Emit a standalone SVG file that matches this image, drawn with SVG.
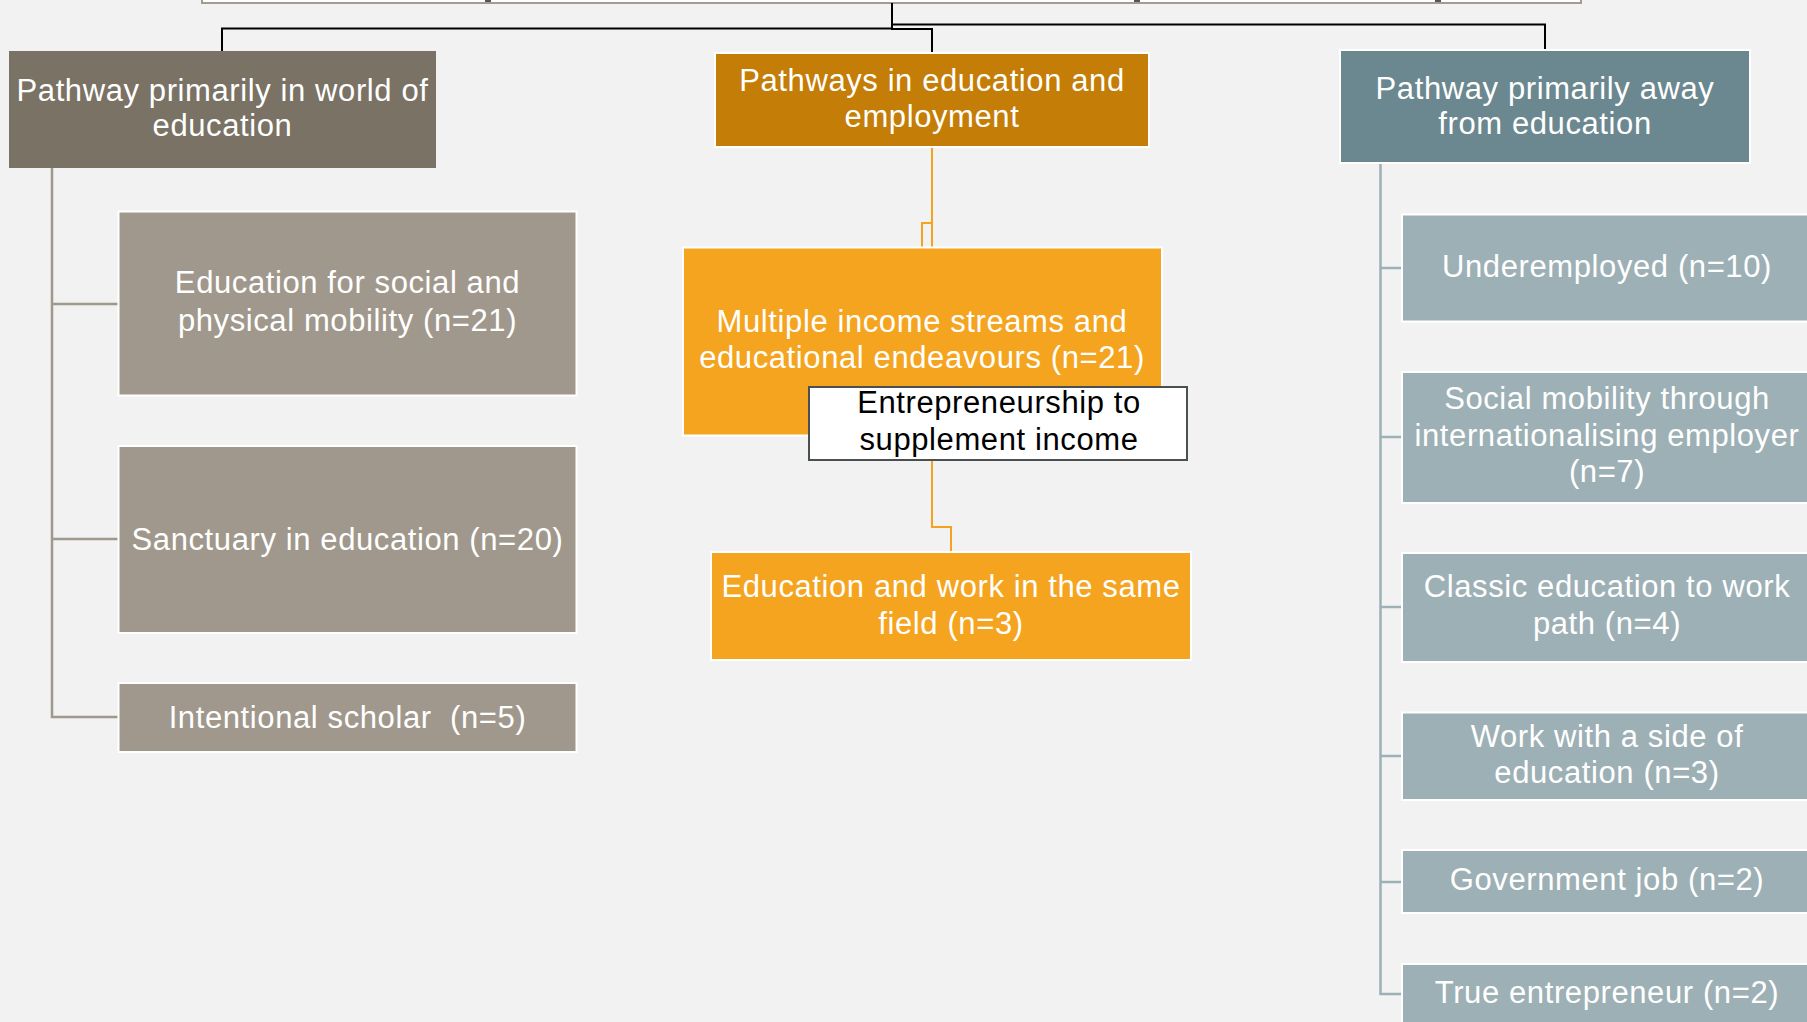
<svg xmlns="http://www.w3.org/2000/svg" width="1807" height="1022" viewBox="0 0 1807 1022">
  <style>
    .t { font-family: "Liberation Sans", Arial, sans-serif; font-size: 31px; letter-spacing: 0.6px; fill: #ffffff; text-anchor: middle; }
    .tb { font-family: "Liberation Sans", Arial, sans-serif; font-size: 31px; letter-spacing: 0.6px; fill: #000000; text-anchor: middle; }
    .c-black { fill: none; stroke: #000000; stroke-width: 2; }
    .c-brown { fill: none; stroke: #a0988c; stroke-width: 2.5; }
    .c-orange { fill: none; stroke: #f5a31f; stroke-width: 2; }
    .c-blue { fill: none; stroke: #9db0b5; stroke-width: 2.5; }
    .b-edge { stroke: #ffffff; stroke-width: 2; }
    .l0 { fill: #7a7265; }
    .l1 { fill: #a0988c; }
    .m0 { fill: #c47d06; }
    .m1 { fill: #f5a41f; }
    .r0 { fill: #6b8890; }
    .r1 { fill: #9db0b5; }
  </style>
  <rect x="0" y="0" width="1807" height="1022" fill="#f2f2f2"/>

  <g id="root">
    <rect x="202" y="-40" width="1379" height="43" fill="#ffffff" stroke="#a39c91" stroke-width="2"/>
    <rect x="485" y="0" width="6" height="2" fill="#555"/>
    <rect x="1134" y="0" width="6" height="2" fill="#555"/>
    <rect x="1435" y="0" width="6" height="2" fill="#555"/>
  </g>

  <g id="connectors">
    <path class="c-black" d="M892,3 V28.5 H222 V51"/>
    <path class="c-black" d="M892,3 V29 H932 V53"/>
    <path class="c-black" d="M892,3 V24.5 H1545 V50"/>

    <path class="c-brown" d="M52,168 V717 H118"/>
    <path class="c-brown" d="M52,304 H118"/>
    <path class="c-brown" d="M52,539 H118"/>

    <path class="c-orange" d="M932,147 V527 H951 V552"/>
    <path class="c-orange" d="M932,223 H922 V247"/>

    <path class="c-blue" d="M1380.5,163 V994 H1402"/>
    <path class="c-blue" d="M1380.5,268 H1402"/>
    <path class="c-blue" d="M1380.5,437 H1402"/>
    <path class="c-blue" d="M1380.5,607 H1402"/>
    <path class="c-blue" d="M1380.5,756 H1402"/>
    <path class="c-blue" d="M1380.5,882 H1402"/>
  </g>

  <g id="n-left">
    <rect class="l0" x="9" y="51" width="427" height="117"/>
    <text class="t" x="222.5" y="101">Pathway primarily in world of<tspan x="222.5" dy="35">education</tspan></text>
  </g>
  <g id="n-edu-social">
    <rect class="l1 b-edge" x="118.5" y="211.5" width="458" height="184"/>
    <text class="t" x="347.5" y="293">Education for social and<tspan x="347.5" dy="38">physical mobility (n=21)</tspan></text>
  </g>
  <g id="n-sanctuary">
    <rect class="l1 b-edge" x="118.5" y="446" width="458" height="187"/>
    <text class="t" x="347.5" y="550">Sanctuary in education (n=20)</text>
  </g>
  <g id="n-intentional">
    <rect class="l1 b-edge" x="118.5" y="683" width="458" height="69"/>
    <text class="t" x="347.5" y="728">Intentional scholar&#160; (n=5)</text>
  </g>

  <g id="n-middle">
    <rect class="m0 b-edge" x="715" y="53" width="434" height="94"/>
    <text class="t" x="932" y="91">Pathways in education and<tspan x="932" dy="35.5">employment</tspan></text>
  </g>
  <g id="n-multiple">
    <rect class="m1 b-edge" x="683" y="247.5" width="479" height="188"/>
    <text class="t" x="922" y="332">Multiple income streams and<tspan x="922" dy="36">educational endeavours (n=21)</tspan></text>
  </g>
  <g id="n-entrepreneurship">
    <rect x="809" y="387" width="378" height="73" fill="#ffffff" stroke="#4a5052" stroke-width="2"/>
    <text class="tb" x="999" y="413">Entrepreneurship to<tspan x="999" dy="37">supplement income</tspan></text>
  </g>
  <g id="n-edu-work">
    <rect class="m1 b-edge" x="711" y="552" width="480" height="108"/>
    <text class="t" x="951" y="597">Education and work in the same<tspan x="951" dy="37">field (n=3)</tspan></text>
  </g>

  <g id="n-right">
    <rect class="r0 b-edge" x="1340" y="50" width="410" height="113"/>
    <text class="t" x="1545" y="99">Pathway primarily away<tspan x="1545" dy="35">from education</tspan></text>
  </g>
  <g id="n-underemployed">
    <rect class="r1 b-edge" x="1402" y="214.5" width="412" height="107"/>
    <text class="t" x="1607" y="277">Underemployed (n=10)</text>
  </g>
  <g id="n-social-mobility">
    <rect class="r1 b-edge" x="1402" y="372" width="412" height="131"/>
    <text class="t" x="1607" y="409">Social mobility through<tspan x="1607" dy="37">internationalising employer</tspan><tspan x="1607" dy="36">(n=7)</tspan></text>
  </g>
  <g id="n-classic">
    <rect class="r1 b-edge" x="1402" y="553" width="412" height="109"/>
    <text class="t" x="1607" y="597">Classic education to work<tspan x="1607" dy="37">path (n=4)</tspan></text>
  </g>
  <g id="n-work-side">
    <rect class="r1 b-edge" x="1402" y="712.5" width="412" height="87.5"/>
    <text class="t" x="1607" y="747">Work with a side of<tspan x="1607" dy="36">education (n=3)</tspan></text>
  </g>
  <g id="n-government">
    <rect class="r1 b-edge" x="1402" y="850" width="412" height="63"/>
    <text class="t" x="1607" y="890">Government job (n=2)</text>
  </g>
  <g id="n-true-entrepreneur">
    <rect class="r1 b-edge" x="1402" y="964" width="412" height="62"/>
    <text class="t" x="1607" y="1003">True entrepreneur (n=2)</text>
  </g>
</svg>
